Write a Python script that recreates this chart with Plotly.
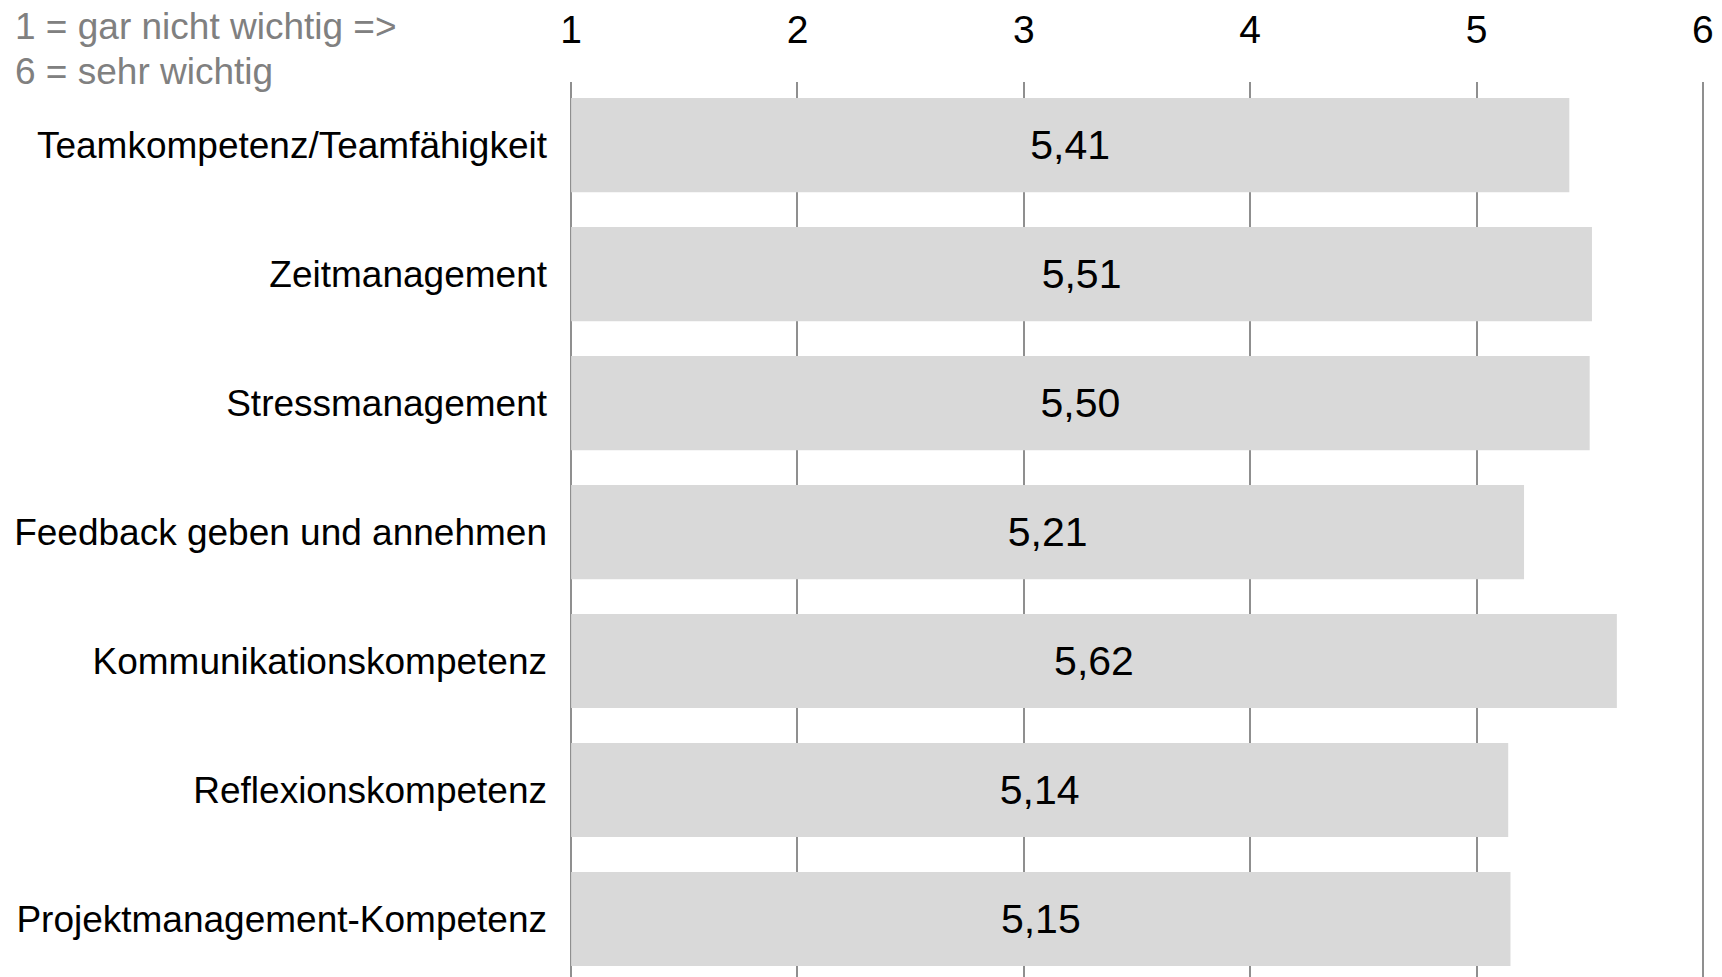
import plotly.graph_objects as go

# Skills, rated from 1 (gar nicht wichtig) to 6 (sehr wichtig)
categories = ["Teamkompetenz/Teamfähigkeit", "Zeitmanagement", "Stressmanagement",
              "Feedback geben und annehmen", "Kommunikationskompetenz",
              "Reflexionskompetenz", "Projektmanagement-Kompetenz"]
means = [5.41, 5.51, 5.50, 5.21, 5.62, 5.14, 5.15]
scale_ticks = [1, 2, 3, 4, 5, 6]
note_lines = ["1 = gar nicht wichtig =>", "6 = sehr wichtig"]

font = "Liberation Sans, Arial, sans-serif"
scale_min = scale_ticks[0]

# bars start at the bottom of the scale (1)
bar = go.Bar(
    y=categories, x=[m - scale_min for m in means], base=scale_min,
    orientation="h", width=0.73,
    marker=dict(color="#d9d9d9", line=dict(width=0)),
    customdata=means, texttemplate="%{customdata:.2f}",
    textposition="inside", insidetextanchor="middle",
    textfont=dict(family=font, size=41, color="#000000"),
    hoverinfo="skip",
)

# page body has an 8px margin, so the figure is 8px smaller than the window
layout = go.Layout(
    width=1714, height=969,
    margin=dict(l=562, r=18, t=74, b=0, pad=0),
    paper_bgcolor="white", plot_bgcolor="white",
    separators=", ",
    showlegend=False,
    font=dict(family=font, color="#000000"),
    xaxis=dict(side="top", range=[0.995, 6.005], tickvals=scale_ticks,
               showgrid=True, gridcolor="#8f8f8f", gridwidth=1.5,
               zeroline=False, showline=False, ticks="", automargin=False,
               ticklabelstandoff=30, tickfont=dict(size=39, color="#000000")),
    yaxis=dict(categoryorder="array", categoryarray=categories,
               range=[6.45, -0.49], showgrid=False, zeroline=False,
               showline=False, ticks="", ticklabelstandoff=22, automargin=False,
               tickfont=dict(size=37, color="#000000")),
    bargap=0.27,
)

fig = go.Figure(data=[bar], layout=layout)

# scale note in the top-left corner
plot_w, plot_h = 1714 - 562 - 18, 969 - 74
for i, line in enumerate(note_lines):
    fig.add_annotation(text=line, xref="paper", yref="paper",
                       x=(5 - 562) / plot_w, y=1 + (74 - 19 - 44 * i) / plot_h,
                       xanchor="left", yanchor="middle", showarrow=False,
                       font=dict(family=font, size=37, color="#808080"))

fig.write_html("out.html")
